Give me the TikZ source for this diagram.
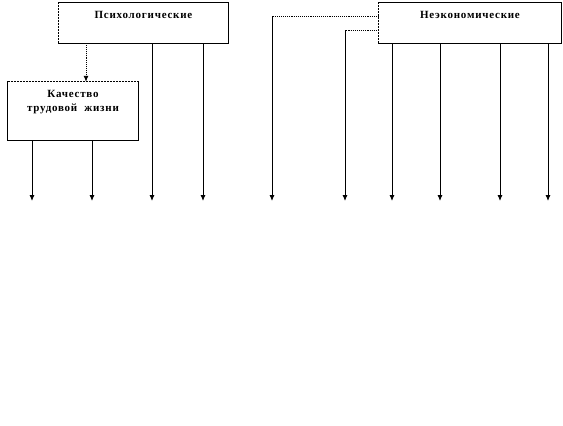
\documentclass[tikz,border=0pt]{standalone}
\usepackage{fontspec}
\setmainfont{Liberation Serif}
\newfontfamily\boxFont[LetterSpace=7]{Liberation Serif}
\usetikzlibrary{positioning,arrows.meta}
\tikzstyle{chart} = [x = 1pt, y = -1pt]
\tikzstyle{boxStyle} = [rectangle, inner sep = 0pt]
\tikzstyle{boxLine} = [color=black, line width = .8pt]
\tikzstyle{boxText} = [font=\boxFont\bfseries\fontsize{11}{14}\selectfont, align=center, inner sep = 0pt, anchor = north]
\tikzstyle{leadLine} = [color=black, line width = .9pt, -{Latex[length=6pt, width=5pt]}]
\tikzstyle{dottedLead} = [color=black, line width = .9pt, densely dotted]
% box with one dashed side: name, dashed side from, dashed side to
\newcommand{\sideBox}[3]{
  \draw [boxLine] (#1.north west) rectangle (#1.south east);
  \draw [white, line width = 1.2pt] (#1.#2) -- (#1.#3);
  \draw [boxLine, dash pattern = on 2pt off 1pt] (#1.#2) -- (#1.#3);
}

\begin{document}
\begin{tikzpicture}[chart]
  \useasboundingbox (0,0) rectangle (563,426);

  \node [boxStyle, minimum width = 169pt, minimum height = 40pt] (psy) at (143.5,23) {};
  \node [boxStyle, minimum width = 182pt, minimum height = 40pt] (noneco) at (470,23) {};
  \node [boxStyle, minimum width = 130pt, minimum height = 58pt] (quality) at (73,111) {};
  \sideBox{psy}{south west}{north west}
  \sideBox{noneco}{south west}{north west}
  \sideBox{quality}{north west}{north east}

  \node [boxText, below = 8pt of psy.north] (psyText) {Психологические};
  \node [boxText, below = 8pt of noneco.north] (nonecoText) {Неэкономические};
  \node [boxText, below = 8pt of quality.north] (qualityText) {Качество\\трудовой\ \ жизни};

  % dotted link to the quality box
  \coordinate (link) at (86,0);
  \draw [dottedLead, -{Latex[length=6pt, width=5pt]}] (psy.south -| link) -- (quality.north -| link);

  % dotted leads out of the left side
  \coordinate (farTurn) at (272,16);
  \coordinate (nearTurn) at (345,30);
  \coordinate (farEnd) at (272,201);
  \coordinate (nearEnd) at (345,201);
  \draw [dottedLead] (noneco.west |- farTurn) -- (farTurn);
  \draw [dottedLead] (noneco.west |- nearTurn) -- (nearTurn);
  \draw [leadLine] (farTurn) -- (farEnd);
  \draw [leadLine] (nearTurn) -- (nearEnd);

  \foreach \col [count = \i] in {32, 92} {
    \coordinate (q\i) at (\col,201);
    \draw [leadLine] (quality.south -| q\i) -- (q\i);
  }
  \foreach \col [count = \i] in {152, 203} {
    \coordinate (p\i) at (\col,201);
    \draw [leadLine] (psy.south -| p\i) -- (p\i);
  }
  \foreach \col [count = \i] in {392, 440, 500, 548} {
    \coordinate (n\i) at (\col,201);
    \draw [leadLine] (noneco.south -| n\i) -- (n\i);
  }
\end{tikzpicture}
\end{document}
